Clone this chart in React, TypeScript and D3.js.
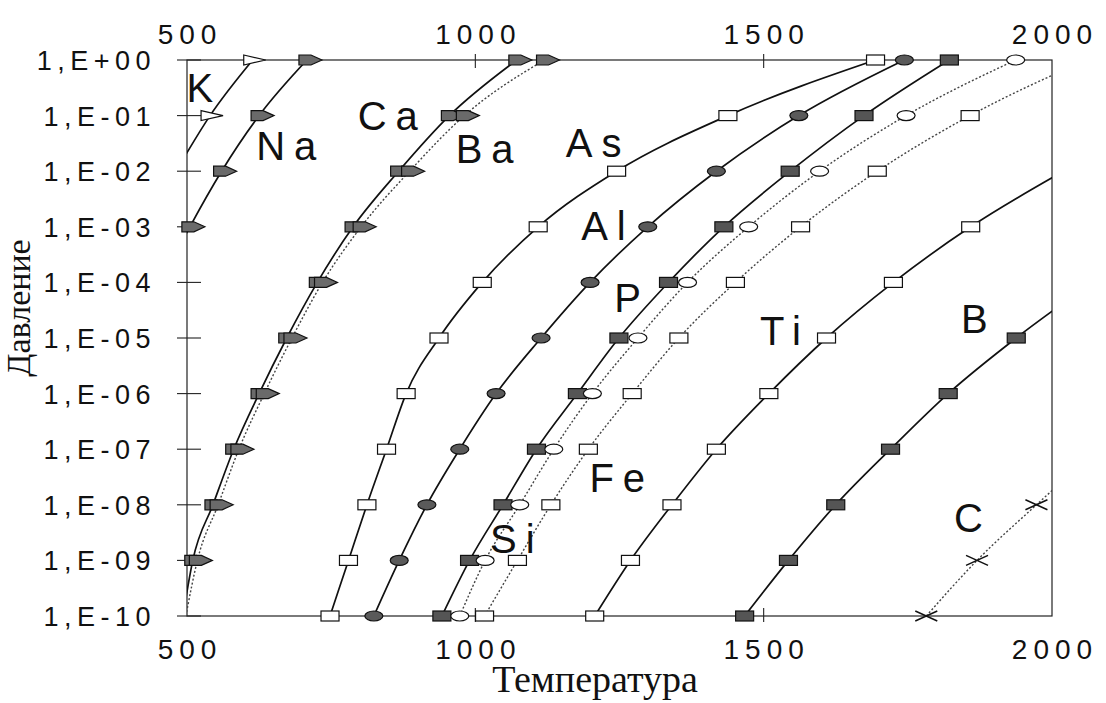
import { useEffect, useRef } from 'react'
import * as d3 from 'd3'

// pressure decades, 1,E+00 .. 1,E-10
const pressureExp = [0, -1, -2, -3, -4, -5, -6, -7, -8, -9, -10]
const xTicks = [500, 1000, 1500, 2000]

// temperature reached at each pressure decade (null = not plotted)
const tK = [614, 540, 481, null, null, null, null, null, null, null, null]
const tNa = [708, 625, 560, 505, 455, null, null, null, null, null, null]
const tCa = [1072, 955, 867, 788, 726, 673, 625, 581, 545, 510, 493]
const tBa = [1120, 981, 886, 802, 735, 682, 634, 590, 554, 518, 498]
const tAs = [1694, 1438, 1245, 1109, 1012, 937, 880, 846, 812, 780, 748]
const tAl = [1744, 1561, 1418, 1299, 1199, 1114, 1036, 973, 916, 868, 824]
const tSi = [1822, 1674, 1546, 1431, 1335, 1249, 1177, 1106, 1048, 990, 942]
const tP = [1937, 1747, 1597, 1474, 1368, 1282, 1203, 1136, 1077, 1017, 973]
const tFe = [2060, 1858, 1697, 1564, 1451, 1353, 1272, 1196, 1131, 1073, 1016]
const tTi = [null, null, 2020, 1859, 1725, 1609, 1509, 1418, 1341, 1269, 1207]
const tB = [null, null, null, null, 2070, 1938, 1820, 1720, 1625, 1543, 1467]
const tC = [null, null, null, null, null, null, null, 2080, 1973, 1870, 1782]

// element labels placed in data space: name, temperature, pressure exponent
const labelNames = ['K', 'Na', 'Ca', 'Ba', 'As', 'Al', 'P', 'Ti', 'B', 'Fe', 'Si', 'C']
const labelT = [523, 673, 849, 1017, 1206, 1223, 1265, 1530, 1866, 1247, 1065, 1856]
const labelExp = [-0.76, -1.8, -1.26, -1.85, -1.74, -3.24, -4.53, -5.13, -4.91, -7.77, -8.87, -8.49]

type Marker = 'triOpen' | 'flag' | 'rectOpen' | 'rectFill' | 'ellFill' | 'ellOpen' | 'cross'

const series: { name: string; temps: (number | null)[]; marker: Marker; dotted: boolean }[] = [
  { name: 'K', temps: tK, marker: 'triOpen', dotted: false },
  { name: 'Na', temps: tNa, marker: 'flag', dotted: false },
  { name: 'Ca', temps: tCa, marker: 'flag', dotted: false },
  { name: 'Ba', temps: tBa, marker: 'flag', dotted: true },
  { name: 'As', temps: tAs, marker: 'rectOpen', dotted: false },
  { name: 'Al', temps: tAl, marker: 'ellFill', dotted: false },
  { name: 'Si', temps: tSi, marker: 'rectFill', dotted: false },
  { name: 'P', temps: tP, marker: 'ellOpen', dotted: true },
  { name: 'Fe', temps: tFe, marker: 'rectOpen', dotted: true },
  { name: 'Ti', temps: tTi, marker: 'rectOpen', dotted: false },
  { name: 'B', temps: tB, marker: 'rectFill', dotted: false },
  { name: 'C', temps: tC, marker: 'cross', dotted: true },
]

const width = 1106
const height = 703

export default function App() {
  const svgRef = useRef<SVGSVGElement>(null)

  useEffect(() => {
    if (!svgRef.current) return
    const svg = d3.select(svgRef.current)
    svg.selectAll('*').remove()

    const margin = { top: 60, right: 54, bottom: 87, left: 187 }
    const x0 = margin.left
    const x1 = width - margin.right
    const y0 = margin.top
    const y1 = height - margin.bottom

    const xScale = d3.scaleLinear().domain([500, 2000]).range([x0, x1])
    const yScale = d3.scaleLog().domain([1e-10, 1]).range([y1, y0])

    const sans = "'Liberation Sans', Arial, sans-serif"
    const serif = "'Liberation Serif', 'Times New Roman', serif"

    svg.append('defs').append('clipPath').attr('id', 'plot-clip')
      .append('rect').attr('x', x0).attr('y', y0).attr('width', x1 - x0).attr('height', y1 - y0)

    // frame
    svg.append('rect')
      .attr('x', x0).attr('y', y0).attr('width', x1 - x0).attr('height', y1 - y0)
      .attr('fill', 'none').attr('stroke', '#222').attr('stroke-width', 1.2)

    // left ticks + labels
    pressureExp.forEach(e => {
      const y = yScale(Math.pow(10, e))
      svg.append('line').attr('x1', x0 - 10).attr('x2', x0 + 14).attr('y1', y).attr('y2', y)
        .attr('stroke', '#222').attr('stroke-width', 1.1)
      const lab = `1,E${e >= 0 ? '+' : '-'}${String(Math.abs(e)).padStart(2, '0')}`
      svg.append('text')
        .attr('x', 156).attr('y', y + 10)
        .attr('text-anchor', 'end')
        .attr('font-family', sans).attr('font-size', 27).attr('letter-spacing', 5.5)
        .attr('fill', '#111')
        .text(lab)
    })

    // top / bottom ticks + labels
    xTicks.forEach(t => {
      const x = xScale(t)
      if (t !== 500 && t !== 2000) {
        svg.append('line').attr('x1', x).attr('x2', x).attr('y1', y0 - 6).attr('y2', y0 + 8)
          .attr('stroke', '#222').attr('stroke-width', 1.1)
        svg.append('line').attr('x1', x).attr('x2', x).attr('y1', y1 - 8).attr('y2', y1 + 6)
          .attr('stroke', '#222').attr('stroke-width', 1.1)
      }
      svg.append('text')
        .attr('x', x + 3).attr('y', y0 - 16)
        .attr('text-anchor', 'middle')
        .attr('font-family', sans).attr('font-size', 28).attr('letter-spacing', 6)
        .attr('fill', '#111')
        .text(t)
      svg.append('text')
        .attr('x', x + 3).attr('y', y1 + 43)
        .attr('text-anchor', 'middle')
        .attr('font-family', sans).attr('font-size', 28).attr('letter-spacing', 6)
        .attr('fill', '#111')
        .text(t)
    })

    // axis titles
    svg.append('text')
      .attr('x', 595).attr('y', 692)
      .attr('text-anchor', 'middle')
      .attr('font-family', serif).attr('font-size', 38)
      .attr('fill', '#111')
      .text('Температура')

    svg.append('text')
      .attr('transform', `translate(30, ${308}) rotate(-90)`)
      .attr('text-anchor', 'middle')
      .attr('font-family', serif).attr('font-size', 34)
      .attr('fill', '#111')
      .text('Давление')

    // curves
    const plot = svg.append('g').attr('clip-path', 'url(#plot-clip)')
    const line = d3.line<{ t: number; p: number }>()
      .x(d => xScale(d.t))
      .y(d => yScale(d.p))
      .curve(d3.curveMonotoneX)

    series.forEach(s => {
      const pts = s.temps
        .map((t, i) => ({ t: t as number, p: Math.pow(10, pressureExp[i]), ok: t !== null }))
        .filter(d => d.ok)
        .sort((a, b) => a.t - b.t)
      plot.append('path')
        .datum(pts)
        .attr('fill', 'none')
        .attr('stroke', s.dotted ? '#444' : '#111')
        .attr('stroke-width', s.dotted ? 1.4 : 1.7)
        .attr('stroke-dasharray', s.dotted ? '2,2' : null)
        .attr('d', line)
    })

    // markers
    const mk = svg.append('g')
    series.forEach(s => {
      s.temps.forEach((t, i) => {
        if (t === null || t < 500 || t > 2000) return
        const cx = xScale(t)
        const cy = yScale(Math.pow(10, pressureExp[i]))
        switch (s.marker) {
          case 'triOpen':
            mk.append('path')
              .attr('d', `M${cx - 9},${cy - 5}L${cx + 13},${cy}L${cx - 9},${cy + 5}Z`)
              .attr('fill', '#fff')
              .attr('stroke', '#111').attr('stroke-width', 1.2)
            break
          case 'flag':
            mk.append('path')
              .attr('d', `M${cx - 8},${cy - 5}L${cx + 4},${cy - 5}L${cx + 15},${cy}L${cx + 4},${cy + 5}L${cx - 8},${cy + 5}Z`)
              .attr('fill', '#6a6a6a')
              .attr('stroke', '#111').attr('stroke-width', 1.2)
            break
          case 'rectOpen':
          case 'rectFill':
            mk.append('rect')
              .attr('x', cx - 9).attr('y', cy - 5).attr('width', 18).attr('height', 10)
              .attr('fill', s.marker === 'rectOpen' ? '#fff' : '#555')
              .attr('stroke', '#111').attr('stroke-width', 1.2)
            break
          case 'ellFill':
          case 'ellOpen':
            mk.append('ellipse')
              .attr('cx', cx).attr('cy', cy).attr('rx', 9).attr('ry', 5)
              .attr('fill', s.marker === 'ellOpen' ? '#fff' : '#5a5a5a')
              .attr('stroke', '#111').attr('stroke-width', 1.2)
            break
          case 'cross':
            mk.append('path')
              .attr('d', `M${cx - 11},${cy - 5}L${cx + 11},${cy + 5}M${cx - 11},${cy + 5}L${cx + 11},${cy - 5}`)
              .attr('stroke', '#111').attr('stroke-width', 1.5)
            break
        }
      })
    })

    // element labels
    labelNames.forEach((n, i) => {
      svg.append('text')
        .attr('x', xScale(labelT[i]) + 4).attr('y', yScale(Math.pow(10, labelExp[i])))
        .attr('text-anchor', 'middle')
        .attr('font-family', sans).attr('font-size', 40).attr('letter-spacing', 9)
        .attr('fill', '#111')
        .text(n)
    })
  }, [])

  return (
    <svg
      ref={svgRef}
      width={width}
      height={height}
      style={{ position: 'absolute', left: 0, top: 0, background: '#fff' }}
    />
  )
}
